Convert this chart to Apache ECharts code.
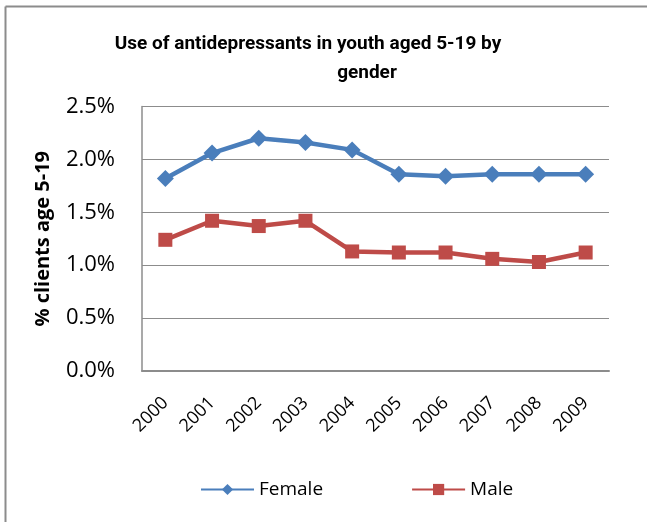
<!DOCTYPE html>
<html>
<head>
<meta charset="utf-8">
<script src="https://cdn.jsdelivr.net/npm/echarts@6/dist/echarts.min.js"></script>
<style>
  html, body { margin: 0; padding: 0; background: #ffffff; }
  #chart { width: 647px; height: 522px; }
</style>
</head>
<body>
<div id="chart"></div>
<script>
// Years on the category axis
const years = ['2000', '2001', '2002', '2003', '2004', '2005', '2006', '2007', '2008', '2009'];
// Share of clients aged 5-19 using antidepressants, in percent
const female = [1.82, 2.06, 2.20, 2.16, 2.09, 1.86, 1.84, 1.86, 1.86, 1.86];
const male = [1.24, 1.42, 1.37, 1.42, 1.13, 1.12, 1.12, 1.06, 1.03, 1.12];
// Value axis ticks (percent)
const yTicks = { min: 0, max: 2.5, step: 0.5 };

const FONT = '"Open Sans", "Noto Sans", "Liberation Sans", sans-serif';
const TITLE_FONT = 'Roboto, "Open Sans", sans-serif';
const chart = echarts.init(document.getElementById('chart'), null, { renderer: 'canvas' });

chart.setOption({
  backgroundColor: '#ffffff',
  animation: false,
  legend: {
    left: 195,
    top: 475,
    itemWidth: 53,
    itemHeight: 14,
    itemGap: 88,
    textStyle: { fontFamily: FONT, fontSize: 19, color: '#000000' },
    data: ['Female', 'Male']
  },
  grid: {
    left: 142,
    top: 106.5,
    right: 38,
    bottom: 151,
    containLabel: false,
    outerBoundsMode: 'none'
  },
  xAxis: {
    type: 'category',
    data: years,
    boundaryGap: true,
    axisLine: { show: true, lineStyle: { color: '#8c8c8c', width: 2 } },
    axisTick: { show: false },
    axisLabel: {
      rotate: 45,
      margin: 29,
      fontFamily: FONT,
      fontSize: 18,
      color: '#000000',
      interval: 0
    }
  },
  yAxis: {
    type: 'value',
    min: yTicks.min,
    max: yTicks.max,
    interval: yTicks.step,
    name: '% clients age 5-19',
    nameLocation: 'middle',
    nameRotate: 90,
    nameGap: 89,
    nameTextStyle: { fontFamily: FONT, fontSize: 20, fontWeight: 'bold', color: '#000000' },
    axisLine: { show: true, lineStyle: { color: '#8c8c8c', width: 1.5 } },
    axisTick: { show: false },
    splitLine: { show: true, lineStyle: { color: '#8c8c8c', width: 1 } },
    axisLabel: {
      margin: 27,
      fontFamily: FONT,
      fontSize: 22,
      color: '#000000',
      formatter: v => v.toFixed(1) + '%'
    }
  },
  series: [
    {
      name: 'Female',
      type: 'line',
      data: female,
      symbol: 'diamond',
      symbolSize: 17,
      lineStyle: { color: '#4a7ebb', width: 4.5 },
      itemStyle: { color: '#4a7ebb' },
      z: 3
    },
    {
      name: 'Male',
      type: 'line',
      data: male,
      symbol: 'rect',
      symbolSize: 14,
      lineStyle: { color: '#be4b48', width: 4.5 },
      itemStyle: { color: '#be4b48' },
      z: 3
    }
  ],
  graphic: [
    // chart frame: top and left edges
    { type: 'line', shape: { x1: 5.5, y1: 6.5, x2: 647, y2: 6.5 }, style: { stroke: '#8c8c8c', lineWidth: 2 }, silent: true },
    { type: 'line', shape: { x1: 5.5, y1: 6.5, x2: 5.5, y2: 522 }, style: { stroke: '#8c8c8c', lineWidth: 2 }, silent: true },
    // two-line chart title
    {
      type: 'text', x: 308, y: 44, silent: true,
      style: { text: 'Use of antidepressants in youth aged 5-19 by', fill: '#000000', font: 'bold 19px ' + TITLE_FONT, textAlign: 'center', textVerticalAlign: 'middle' }
    },
    {
      type: 'text', x: 367, y: 73, silent: true,
      style: { text: 'gender', fill: '#000000', font: 'bold 19px ' + TITLE_FONT, textAlign: 'center', textVerticalAlign: 'middle' }
    }
  ]
});
</script>
</body>
</html>
